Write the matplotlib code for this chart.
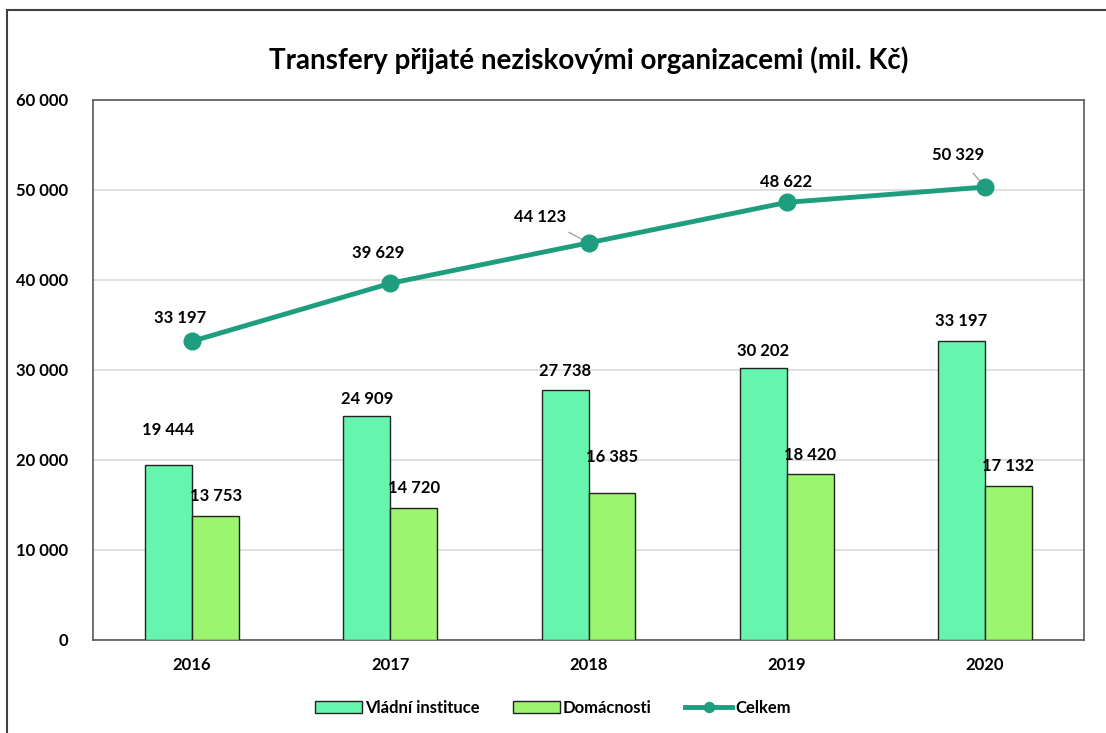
import matplotlib.pyplot as plt
import numpy as np
from matplotlib.patches import Rectangle

years = ["2016", "2017", "2018", "2019", "2020"]
vladni = [19444, 24909, 27738, 30202, 33197]
domacnosti = [13753, 14720, 16385, 18420, 17132]
celkem = [33197, 39629, 44123, 48622, 50329]

c_vladni = "#66F5AC"
c_dom = "#9BF56E"
c_line = "#1E9E7E"


def fmt(v):
    return f"{v:,}".replace(",", " ")


plt.rcParams["font.family"] = ["Lato", "DejaVu Sans"]
plt.rcParams["font.weight"] = "bold"

fig = plt.figure(figsize=(11.06, 7.33), dpi=100)
ax = fig.add_axes([93 / 1106, 1 - 640 / 733, 991 / 1106, 540 / 733])

x = np.arange(len(years))
w = 0.237
ax.bar(x - w / 2, vladni, w, color=c_vladni, edgecolor="#222222", linewidth=1,
       label="Vládní instituce", zorder=3)
ax.bar(x + w / 2, domacnosti, w, color=c_dom, edgecolor="#222222", linewidth=1,
       label="Domácnosti", zorder=3)
ax.plot(x, celkem, color=c_line, lw=3.5, marker="o", ms=12, label="Celkem", zorder=4)

# label offsets in pixels (label centre above bar top / point)
up_vladni = [35, 17, 19, 17, 20]
up_dom = [20, 20, 36, 19, 20]
for i in range(len(years)):
    ax.annotate(fmt(vladni[i]), (x[i] - w / 2, vladni[i]), xytext=(0, up_vladni[i]),
                textcoords="offset pixels", ha="center", va="center", fontsize=12,
                fontweight="bold")
    ax.annotate(fmt(domacnosti[i]), (x[i] + w / 2, domacnosti[i]), xytext=(0, up_dom[i]),
                textcoords="offset pixels", ha="center", va="center", fontsize=12,
                fontweight="bold")

line_offsets = [(-12, 23), (-12, 30), (-48, 26), (-1, 20), (-27, 32)]
leaders = [False, False, True, False, True]
for i in range(len(years)):
    props = None
    if leaders[i]:
        props = dict(arrowstyle="-", color="#A6A6A6", lw=1, shrinkA=7, shrinkB=0)
    ax.annotate(fmt(celkem[i]), (x[i], celkem[i]), xytext=line_offsets[i],
                textcoords="offset pixels", ha="center", va="center", fontsize=12,
                fontweight="bold", arrowprops=props)

ax.set_xlim(-0.5, len(years) - 0.5)
ax.set_ylim(0, 60000)
ax.set_yticks(np.arange(0, 60001, 10000))
ax.set_yticklabels([fmt(v) for v in range(0, 60001, 10000)])
ax.set_xticks(x)
ax.set_xticklabels(years)
ax.tick_params(length=0, labelsize=12, pad=12)
ax.tick_params(axis="y", pad=18)
for lab in ax.get_xticklabels() + ax.get_yticklabels():
    lab.set_fontweight("bold")

ax.grid(axis="y", color="#D9D9D9", lw=1.2, zorder=0)
for s in ax.spines.values():
    s.set_color("#595959")
    s.set_linewidth(1.2)

ax.set_title("Transfery přijaté neziskovými organizacemi (mil. Kč)", fontsize=20,
             fontweight="bold", pad=22)

handles, labels = ax.get_legend_handles_labels()
order = [1, 2, 0]
fig.legend([handles[k] for k in order], [labels[k] for k in order],
           loc="center", bbox_to_anchor=(0.5, 1 - 708 / 733), ncol=3, frameon=False,
           fontsize=12, handlelength=2.8, columnspacing=2.0, handletextpad=0.2,
           markerscale=0.6)

fig.patches.append(Rectangle((7 / 1106, -0.01), 1.1, 1 - 10 / 733 + 0.01,
                             transform=fig.transFigure, fill=False,
                             edgecolor="#404040", lw=1.5))

fig.savefig("out.png", dpi=100)
